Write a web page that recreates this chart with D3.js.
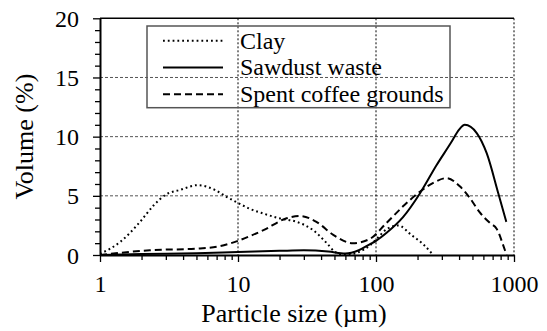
<!DOCTYPE html>
<html><head><meta charset="utf-8">
<script src="https://cdn.jsdelivr.net/npm/d3@7"></script>
<style>body{margin:0;background:#fff}svg{display:block}</style>
</head><body><svg id="c" width="547" height="331" font-family="Liberation Serif"></svg>
<script>
const claySize = [1, 1.4, 1.95, 2.45, 3, 3.8, 5.1, 6.8, 8.3, 10, 12.2, 15.3, 20, 26.6, 35, 44, 50, 57, 65, 75, 90, 100, 120, 145, 180, 220, 260];
const clayVol  = [0.1, 1.1, 2.8, 4.2, 5.1, 5.5, 5.9, 5.5, 4.9, 4.4, 3.9, 3.5, 3.1, 2.8, 2.1, 1.0, 0.3, 0.05, 0.05, 0.25, 0.8, 1.3, 2.2, 2.5, 1.7, 0.9, 0];
const sawSize = [1, 2, 5, 10, 20, 30, 45, 60, 75, 90, 100, 120, 157, 208, 275, 350, 400, 440, 537, 634, 770, 880];
const sawVol  = [0, 0.08, 0.15, 0.25, 0.35, 0.4, 0.3, 0.12, 0.4, 0.9, 1.2, 1.9, 3.2, 5.2, 7.6, 9.5, 10.6, 11.0, 10.3, 8.6, 5.2, 2.8];
const cofSize = [1, 2.3, 5.3, 7.4, 10, 12.2, 15.3, 22.5, 28, 37, 49, 68, 90, 119, 160, 208, 260, 325, 405, 480, 565, 670, 750, 860, 885];
const cofVol  = [0, 0.4, 0.55, 0.75, 1.2, 1.6, 2.1, 3.1, 3.3, 2.8, 1.7, 1.0, 1.35, 2.7, 4.2, 5.35, 6.1, 6.5, 5.8, 4.8, 3.6, 2.7, 2.2, 0.4, 0];
const seriesNames = ["Clay", "Sawdust waste", "Spent coffee grounds"];
const xTicks = [1, 10, 100, 1000];
const yTicks = [0, 5, 10, 15, 20];

const svg = d3.select("#c");
const L = 100, R = 514, T = 18.3, B = 255;
const x = d3.scaleLog().domain([1, 1000]).range([L, R]);
const y = d3.scaleLinear().domain([0, 20]).range([B, T]);

// gridlines
svg.append("g").selectAll("line").data([5, 10, 15]).join("line")
  .attr("x1", L).attr("x2", R).attr("y1", d => y(d)).attr("y2", d => y(d))
  .attr("stroke", "#555").attr("stroke-width", 1).attr("stroke-dasharray", "3,2");
svg.append("g").selectAll("line").data([10, 100, 1000]).join("line")
  .attr("x1", d => x(d)).attr("x2", d => x(d)).attr("y1", T).attr("y2", B)
  .attr("stroke", "#000").attr("stroke-width", 1).attr("stroke-dasharray", "2,2");
svg.append("line").attr("x1", L).attr("x2", R).attr("y1", T).attr("y2", T).attr("stroke", "#000").attr("stroke-width", 1.5);

// axes
const minorX = [];
for (let dec = 1; dec < 1000; dec *= 10) for (let k = 1; k <= 10; k++) minorX.push(dec * k);
const xAxis = d3.axisBottom(x).tickValues([...new Set(minorX)]).tickSizeInner(5).tickSizeOuter(0).tickFormat(d => xTicks.includes(d) ? d : "");
const gx = svg.append("g").attr("transform", `translate(0,${B})`).call(xAxis);
gx.attr("font-family", null).attr("font-size", null);
gx.select(".domain").attr("stroke-width", 2);
gx.selectAll(".tick line").attr("stroke-width", 1.3).attr("y2", d => xTicks.includes(d) ? 7 : 5);
gx.selectAll(".tick text").attr("font-size", 24).attr("dy", 0).attr("y", 37).attr("font-family", "Liberation Serif");

const yAxis = d3.axisLeft(y).tickValues(d3.range(0, 21)).tickSizeInner(5).tickSizeOuter(0).tickFormat(d => yTicks.includes(d) ? d : "");
const gy = svg.append("g").attr("transform", `translate(${L},0)`).call(yAxis);
gy.attr("font-family", null).attr("font-size", null);
gy.select(".domain").attr("stroke-width", 2);
gy.selectAll(".tick line").attr("stroke-width", 1.3).attr("x2", d => yTicks.includes(d) ? -7 : -5);
gy.selectAll(".tick text").attr("font-size", 24).attr("x", -21).attr("dy", "0.34em").attr("font-family", "Liberation Serif");

// curves
svg.append("clipPath").attr("id", "clip").append("rect").attr("x", L).attr("y", T).attr("width", R - L).attr("height", B - T + 1);
const line = d3.line().x(d => x(d[0])).y(d => y(d[1])).curve(d3.curveMonotoneX);
const styles = [
  {dash: "1.8,3", w: 2},
  {dash: "none", w: 2},
  {dash: "7,4", w: 2}
];
const data = [d3.zip(claySize, clayVol), d3.zip(sawSize, sawVol), d3.zip(cofSize, cofVol)];
data.forEach((s, i) => {
  svg.append("path").attr("d", line(s)).attr("fill", "none").attr("stroke", "#000")
    .attr("stroke-width", styles[i].w).attr("stroke-dasharray", styles[i].dash)
    .attr("clip-path", "url(#clip)");
});

// legend
const lg = svg.append("g");
lg.append("rect").attr("x", 147).attr("y", 26).attr("width", 303).attr("height", 81.7)
  .attr("fill", "none").attr("stroke", "#555").attr("stroke-width", 1.5);
seriesNames.forEach((n, i) => {
  const yy = 40.7 + i * 26.8;
  lg.append("line").attr("x1", 163).attr("x2", 223).attr("y1", yy).attr("y2", yy)
    .attr("stroke", "#000").attr("stroke-width", styles[i].w).attr("stroke-dasharray", styles[i].dash);
  lg.append("text").attr("x", 240).attr("y", yy).attr("dy", "0.33em").attr("font-size", 24).attr("font-family", "Times New Roman").text(n);
});

// titles
svg.append("text").attr("x", 294).attr("y", 322).attr("text-anchor", "middle").attr("font-size", 26).attr("font-family", "Liberation Serif").text("Particle size (µm)");
svg.append("text").attr("transform", `translate(33,${(T + B) / 2}) rotate(-90)`).attr("text-anchor", "middle").attr("font-size", 26).attr("font-family", "serif").text("Volume (%)");
</script></body></html>
